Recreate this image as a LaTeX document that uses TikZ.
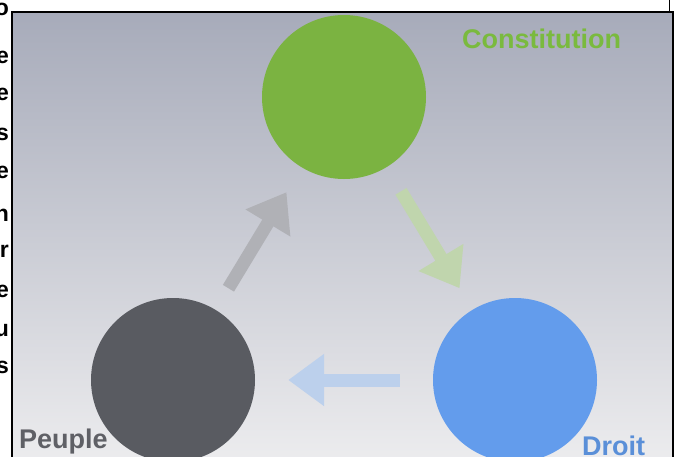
\documentclass[tikz,border=0pt]{standalone}
\usepackage{fontspec}
\setmainfont{Liberation Sans}
\usepackage{tikz}
\usetikzlibrary{arrows.meta,positioning}
\usepackage{xcolor}
\definecolor{ctgreen}{RGB}{123,179,65}
\definecolor{ctgreenlbl}{RGB}{122,186,62}
\definecolor{ctdark}{RGB}{89,91,97}
\definecolor{ctdarklbl}{RGB}{95,96,102}
\definecolor{ctblue}{RGB}{99,156,236}
\definecolor{ctbluelbl}{RGB}{90,143,216}
\definecolor{ctbgtop}{RGB}{167,171,186}
\definecolor{ctbgbot}{RGB}{236,236,238}
\definecolor{arrgray}{RGB}{176,177,182}
\definecolor{arrgreen}{RGB}{192,213,173}
\definecolor{arrblue}{RGB}{188,208,236}
\tikzstyle{disc} = [circle,minimum size=164pt,inner sep=0pt]
\tikzstyle{lbl} = [inner sep=0pt,font=\fontsize{27}{30}\selectfont\bfseries]
\tikzstyle{frag} = [inner sep=0pt,anchor=base east,font=\fontsize{23}{26}\selectfont\bfseries]
\tikzstyle{flow} = [line width=13pt,-{Triangle[width=50pt,length=36pt]}]

\begin{document}
\begin{tikzpicture}[x=1pt,y=-1pt]
\useasboundingbox (0,0) rectangle (680,456);
\clip (0,0) rectangle (680,456);
\fill[white] (0,0) rectangle (680,456);

% Cut text on the left
\foreach \ch/\yy in {o/15,e/63,e/100,s/140,e/178,n/221,r/257,e/297,u/336,s/373}
  \node[frag] at (9,\yy) {\ch};

% Slide background
\shade[top color=ctbgtop,bottom color=ctbgbot] (12,12) rectangle (673,460);
\draw[line width=1.6pt] (12,460) -- (12,12) -- (673,12) -- (673,460);
\draw[line width=1.2pt] (669.5,0) -- (669.5,12);

% Circles
\node[disc,fill=ctgreen] (const) at (344,97) {};
\node[disc,fill=ctdark] (peuple) at (173,380) {};
\node[disc,fill=ctblue] (droit) at (515,380) {};

% Arrows
\draw[flow,arrgray,shorten <=25pt,shorten >=29pt] (peuple) -- (const);
\draw[flow,arrgreen,shorten <=28pt,shorten >=25pt] (const) -- (droit);
\draw[flow,arrblue,shorten <=33pt,shorten >=33pt] (droit) -- (peuple);

% Labels
\node[lbl,anchor=base west,text=ctgreenlbl] (lconst) at (462,48) {Constitution};
\node[lbl,anchor=base west,text=ctdarklbl] (lpeuple) at (19,448) {Peuple};
\node[lbl,anchor=base west,text=ctbluelbl] (ldroit) at (582,455) {Droit};
\end{tikzpicture}
\end{document}
